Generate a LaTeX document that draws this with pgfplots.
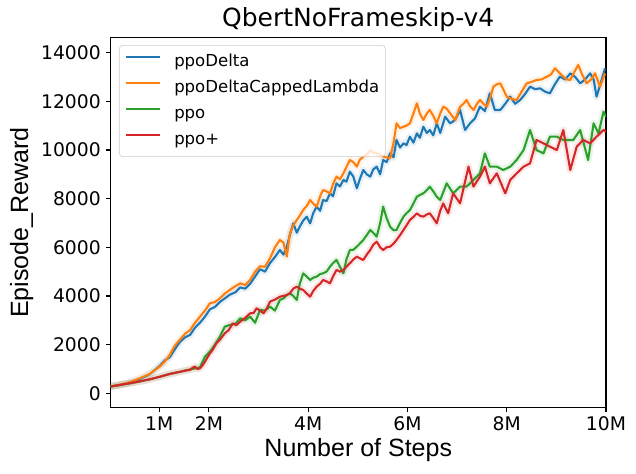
\documentclass[border=0pt]{standalone}
\usepackage{fontspec}
\setmainfont{DejaVu Sans}
\newfontfamily\arialf{Liberation Sans}
\usepackage{pgfplots}
\usepackage{pgfplotstable}
\pgfplotsset{compat=1.18}
\usetikzlibrary{calc}
\definecolor{cBlue}{HTML}{1F77B4}
\definecolor{cOrange}{HTML}{FF7F0E}
\definecolor{cGreen}{HTML}{2CA02C}
\definecolor{cRed}{HTML}{D62728}

\pgfplotstableread{
x y
0.02 280
0.20 340
0.40 430
0.61 590
0.81 790
1.01 1130
1.11 1350
1.21 1480
1.31 1800
1.41 2100
1.52 2300
1.62 2400
1.72 2700
1.82 2900
1.92 3150
2.02 3450
2.12 3550
2.22 3750
2.32 3900
2.42 4050
2.53 4150
2.63 4350
2.73 4300
2.83 4500
2.93 4800
3.03 5100
3.13 5000
3.23 5350
3.33 5600
3.43 5890
3.50 5700
3.57 6025
3.63 6500
3.70 6986
3.77 6600
3.83 6849
3.90 7100
3.97 7258
4.04 6986
4.10 7400
4.17 7671
4.24 7500
4.30 7945
4.37 7900
4.44 8219
4.50 8100
4.57 8630
4.64 8500
4.71 8767
4.77 8700
4.84 9110
4.91 8900
4.98 8425
5.04 8800
5.11 9178
5.18 9000
5.25 8904
5.31 9200
5.38 9315
5.45 9000
5.51 9589
5.58 9500
5.65 9863
5.72 9700
5.78 10411
5.85 10100
5.92 10274
5.98 10200
6.05 10548
6.12 10300
6.19 10685
6.25 10500
6.32 10959
6.39 10700
6.45 10822
6.52 10600
6.59 11096
6.66 10700
6.76 11370
6.86 11096
6.96 11233
7.06 11644
7.16 10822
7.26 11096
7.36 11300
7.46 11781
7.56 11600
7.66 12329
7.76 11644
7.87 11644
7.97 11900
8.07 12192
8.17 11900
8.27 12055
8.37 12300
8.47 12603
8.57 12500
8.67 12535
8.77 12400
8.87 12329
8.97 12700
9.07 13014
9.18 12900
9.28 13151
9.38 13000
9.48 12740
9.58 12900
9.68 13151
9.75 12900
9.81 12192
9.90 12800
9.98 13357
}\ppoDelta

\pgfplotstableread{
x y
0.02 280
0.20 350
0.40 450
0.61 620
0.81 800
1.01 1100
1.11 1300
1.21 1570
1.31 1950
1.41 2190
1.52 2450
1.62 2600
1.72 2900
1.82 3150
1.92 3400
2.02 3700
2.12 3750
2.22 3900
2.32 4100
2.42 4250
2.53 4400
2.63 4520
2.73 4450
2.83 4660
2.93 5000
3.03 5225
3.13 5200
3.23 5550
3.33 6000
3.43 6300
3.50 6200
3.57 5616
3.63 6575
3.70 6900
3.77 7123
3.83 7300
3.90 7534
3.97 7700
4.04 7945
4.10 7800
4.17 7671
4.24 8100
4.30 8356
4.37 8300
4.44 8219
4.50 8600
4.57 8904
4.64 8800
4.71 9041
4.77 9300
4.84 9589
4.91 9500
4.98 9315
5.04 9600
5.11 9726
5.18 9800
5.25 9999
5.31 9900
5.38 9863
5.45 9800
5.51 9726
5.58 9700
5.65 9658
5.72 10300
5.78 11096
5.85 10900
5.92 10959
5.98 11000
6.05 11096
6.12 11500
6.19 11918
6.25 11500
6.32 11233
6.39 11500
6.45 11644
6.52 11400
6.59 11096
6.66 11500
6.72 11781
6.79 11700
6.86 11507
6.96 11233
7.06 11781
7.13 11900
7.19 12055
7.26 11800
7.33 11644
7.40 11900
7.46 12055
7.53 11900
7.60 11781
7.66 12100
7.73 12603
7.80 12700
7.87 12740
7.93 12500
8.00 12192
8.10 12100
8.20 12055
8.30 12400
8.40 12740
8.50 12800
8.60 12877
8.70 12900
8.81 13014
8.89 13100
8.97 13357
9.05 13200
9.14 13014
9.21 12900
9.28 12877
9.36 13200
9.44 13494
9.52 13100
9.61 12740
9.70 12900
9.78 13151
9.88 12603
9.98 13151
}\ppoDeltaCapped

\pgfplotstableread{
x y
0.02 280
0.20 340
0.40 410
0.61 490
0.81 574
1.01 680
1.21 794
1.41 880
1.62 985
1.72 1020
1.82 1068
1.92 1506
2.02 1711
2.12 2000
2.22 2328
2.32 2739
2.42 2808
2.53 2850
2.63 3082
2.73 3000
2.83 3150
2.93 2900
3.03 3424
3.13 3400
3.23 3561
3.33 3400
3.43 3835
3.50 3900
3.57 4040
3.63 4109
3.70 4000
3.77 3835
3.83 4500
3.90 4931
3.97 4800
4.04 4657
4.10 4750
4.17 4794
4.24 4900
4.30 4931
4.37 5000
4.44 5205
4.50 5350
4.57 5479
4.64 5200
4.71 4931
4.77 5500
4.84 5890
4.91 5900
4.98 6027
5.04 6150
5.11 6301
5.18 6500
5.25 6712
5.31 6600
5.38 6438
5.45 7000
5.51 7671
5.58 7200
5.65 6849
5.72 6700
5.78 6712
5.85 7000
5.92 7260
5.98 7400
6.05 7534
6.12 7800
6.19 8082
6.25 8150
6.32 8219
6.39 8350
6.45 8493
6.52 8300
6.59 8082
6.66 7945
6.79 8630
6.92 8219
7.06 8493
7.19 8493
7.33 8767
7.46 9041
7.56 9863
7.66 9315
7.80 9315
7.93 9178
8.07 9315
8.20 9589
8.34 9999
8.47 10822
8.60 9999
8.74 9863
8.87 10548
9.01 10548
9.14 10411
9.34 10411
9.48 10822
9.56 10200
9.64 9589
9.75 11096
9.85 10685
9.95 11576
10.00 11370
}\ppo

\pgfplotstableread{
x y
0.02 280
0.20 340
0.40 410
0.61 490
0.81 574
1.01 680
1.21 794
1.41 880
1.52 930
1.62 958
1.67 1050
1.72 1095
1.77 1000
1.82 1027
1.87 1150
1.92 1300
2.02 1643
2.08 1800
2.15 2054
2.22 2200
2.32 2465
2.40 2600
2.48 2876
2.55 2800
2.63 2945
2.73 3100
2.83 3287
2.90 3300
2.96 3493
3.03 3400
3.10 3287
3.17 3500
3.23 3767
3.33 3850
3.43 3972
3.50 4000
3.57 4040
3.63 4109
3.70 4300
3.77 4383
3.83 4300
3.90 4246
3.97 4100
4.04 3972
4.10 4200
4.17 4383
4.24 4500
4.30 4657
4.37 4600
4.44 4520
4.50 4800
4.57 5068
4.64 5000
4.71 5068
4.77 5200
4.84 5342
4.91 5500
4.98 5616
5.04 5550
5.11 5479
5.18 5700
5.25 5890
5.31 6100
5.38 6233
5.45 6000
5.51 5890
5.58 6000
5.65 6027
5.72 6150
5.78 6301
5.85 6500
5.92 6712
5.98 6900
6.05 7123
6.12 7250
6.19 7397
6.25 7300
6.32 7260
6.39 7350
6.45 7397
6.52 7200
6.59 6986
6.66 7500
6.72 7808
6.82 7397
6.92 8219
7.06 7808
7.23 9315
7.33 8493
7.46 8904
7.56 9315
7.66 8630
7.80 9041
7.97 8219
8.07 8767
8.20 9041
8.34 9315
8.47 9452
8.60 10411
8.74 10274
8.87 10137
9.01 9999
9.14 10822
9.28 9178
9.41 10137
9.54 10411
9.68 10274
9.81 10548
9.95 10822
10.00 10750
}\ppoplus

\begin{document}
\begin{tikzpicture}
\begin{axis}[name=ax,
  scale only axis, width=356.76pt, height=266.1pt,
  xmin=0.017, xmax=10, ymin=-575, ymax=14616,
  xtick={1,2,4,6,8,10}, xticklabels={1M,2M,4M,6M,8M,10M},
  ytick={0,2000,4000,6000,8000,10000,12000,14000},
  scaled y ticks=false,
  /pgf/number format/assume math mode=true,
  /pgf/number format/1000 sep={},
  tick align=outside, xtick pos=left, ytick pos=left,
  major tick length=3.5pt,
  tick style={black, line width=0.8pt},
  axis line style={line width=0.8pt},
  tick label style={font=\fontsize{13.5}{16}\selectfont},
  every axis title shift=0pt,
  title={QbertNoFrameskip-v4},
  title style={font=\fontsize{18}{21}\selectfont, at={(axis description cs:0.5,1.0297)}, anchor=base},
  xlabel={Number of Steps},
  xlabel style={font=\arialf\fontsize{18}{21}\selectfont, at={(axis description cs:0.5,-0.1337)}, anchor=base},
  ylabel={Episode\_Reward},
  ylabel style={font=\arialf\fontsize{18}{21}\selectfont, at={(axis description cs:-0.166,0.5)}, anchor=base},
  legend cell align=left,
  legend style={at={(axis description cs:0.0171,0.980)}, anchor=north west,
    draw=black!20, rounded corners=2.5pt, fill=white, fill opacity=0.8, text opacity=1,
    font=\fontsize{11.9}{14}\selectfont, inner xsep=4.3pt, inner ysep=6pt, row sep=6.7pt,
    nodes={inner sep=0pt, text height=9pt, text depth=3pt},
    /tikz/every odd column/.append style={column sep=9.8pt}},
  legend image code/.code={\draw[#1, line width=1.5pt] (0pt,3.5pt) -- (24pt,3.5pt);},
]
\addplot[cBlue, line width=5pt, opacity=0.1, line join=round, forget plot] table {\ppoDelta};
\addplot[cOrange, line width=5pt, opacity=0.1, line join=round, forget plot] table {\ppoDeltaCapped};
\addplot[cGreen, line width=5pt, opacity=0.1, line join=round, forget plot] table {\ppo};
\addplot[cRed, line width=5pt, opacity=0.1, line join=round, forget plot] table {\ppoplus};
\addplot[cBlue, line width=1.5pt, line join=round] table {\ppoDelta};
\addlegendentry{ppoDelta}
\addplot[cOrange, line width=1.5pt, line join=round] table {\ppoDeltaCapped};
\addlegendentry{ppoDeltaCappedLambda}
\addplot[cGreen, line width=1.5pt, line join=round] table {\ppo};
\addlegendentry{ppo}
\addplot[cRed, line width=1.5pt, line join=round] table {\ppoplus};
\addlegendentry{ppo+}
\end{axis}
\pgfresetboundingbox
\path ($(ax.south west)+(-79.56pt,-48.02pt)$) rectangle ($(ax.north east)+(21.6pt,27.14pt)$);
\end{tikzpicture}
\end{document}
